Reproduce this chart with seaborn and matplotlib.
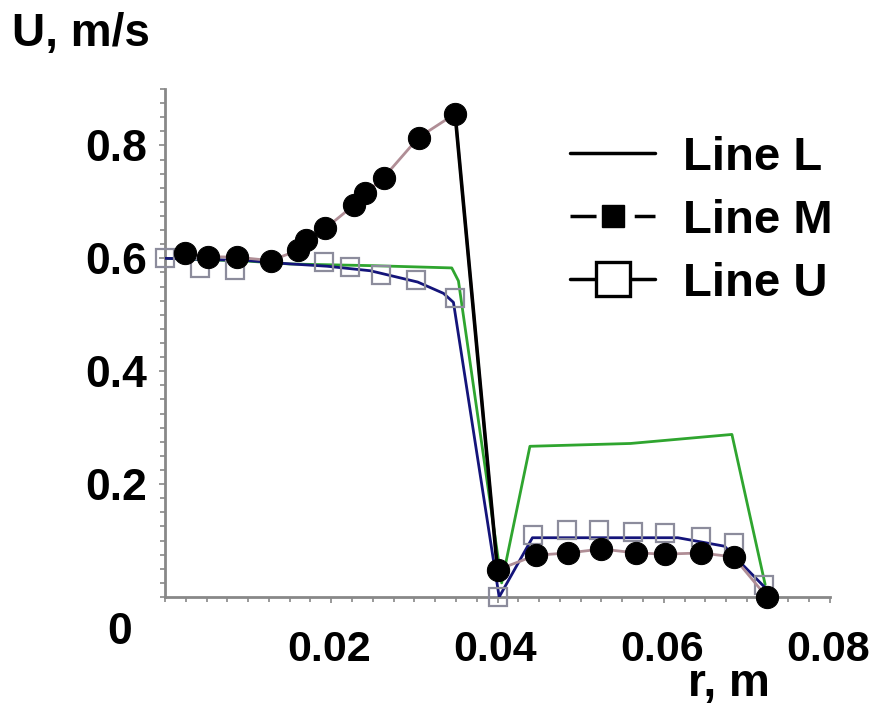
import numpy as np
import pandas as pd
import matplotlib
matplotlib.use("Agg")
import matplotlib.pyplot as plt
import matplotlib.transforms as mtransforms
from matplotlib.lines import Line2D
from matplotlib.ticker import MultipleLocator
import seaborn as sns

# ---------------- data ----------------
# green line (no markers)
green_r = [0.0, 0.010, 0.015, 0.025, 0.0345, 0.0353, 0.0405, 0.0439, 0.0560, 0.0682, 0.0722]
green_u = [0.600, 0.595, 0.590, 0.587, 0.583, 0.560, 0.025, 0.267, 0.272, 0.288, 0.022]

# navy line
navy_r = [0.0, 0.005, 0.010, 0.0142, 0.0195, 0.0247, 0.0304, 0.0335, 0.0347, 0.0402,
          0.0442, 0.0617, 0.0673, 0.0721]
navy_u = [0.600, 0.598, 0.596, 0.591, 0.586, 0.578, 0.558, 0.538, 0.522, 0.0,
          0.105, 0.105, 0.090, 0.018]

# hollow squares
sq_r = [0.0, 0.0042, 0.0084, 0.0191, 0.0223, 0.0260, 0.0302, 0.0349, 0.0400,
        0.0443, 0.0484, 0.0522, 0.0563, 0.0602, 0.0645, 0.0684, 0.0721]
sq_u = [0.600, 0.583, 0.580, 0.593, 0.585, 0.571, 0.561, 0.529, 0.000,
        0.110, 0.119, 0.119, 0.115, 0.113, 0.106, 0.096, 0.022]

# filled circles (rosy connecting line)
circ_r = [0.0024, 0.0052, 0.0087, 0.0127, 0.0160, 0.0170, 0.0193, 0.0227, 0.0241,
          0.0263, 0.0305, 0.0349, 0.0400, 0.0446, 0.0485, 0.0525, 0.0567, 0.0602,
          0.0645, 0.0684, 0.0724]
circ_u = [0.609, 0.603, 0.602, 0.596, 0.614, 0.632, 0.653, 0.694, 0.715,
          0.743, 0.814, 0.856, 0.048, 0.074, 0.078, 0.085, 0.078, 0.076,
          0.078, 0.071, 0.0]

# black drop segment (peak -> trough)
drop_r = [0.0349, 0.0400]
drop_u = [0.856, 0.048]

xticks = [0.02, 0.04, 0.06, 0.08]
xtick_labels = ["0.02", "0.04", "0.06", "0.08"]
yticks = [0.2, 0.4, 0.6, 0.8]
ytick_labels = ["0.2", "0.4", "0.6", "0.8"]
legend_labels = ["Line L", "Line M", "Line U"]

# ---------------- style ----------------
sns.set_style("white")
plt.rcParams["font.family"] = ["Liberation Sans", "DejaVu Sans"]
plt.rcParams["font.weight"] = "bold"
plt.rcParams["text.color"] = "black"
plt.rcParams["xtick.color"] = "#888888"
plt.rcParams["ytick.color"] = "#888888"
plt.rcParams["xtick.labelcolor"] = "black"
plt.rcParams["ytick.labelcolor"] = "black"

W, H = 871, 706
fig = plt.figure(figsize=(W / 100, H / 100), dpi=100)
ax = fig.add_axes([165 / W, 1 - 597 / H, (830 - 165) / W, (597 - 89) / H])

GREEN = "#2fa52f"
NAVY = "#14147a"
ROSY = "#b08e96"
SQEDGE = "#8c8c9c"

sns.lineplot(x=green_r, y=green_u, ax=ax, color=GREEN, linewidth=2.0,
             sort=False, estimator=None, legend=False, zorder=2)
sns.lineplot(x=navy_r, y=navy_u, ax=ax, color=NAVY, linewidth=2.0,
             sort=False, estimator=None, legend=False, zorder=3)
sns.lineplot(x=sq_r, y=sq_u, ax=ax, color=SQEDGE, linewidth=0, marker="s",
             markersize=13, markerfacecolor="none", markeredgecolor=SQEDGE,
             markeredgewidth=1.6, sort=False, estimator=None, legend=False,
             zorder=4, clip_on=False)
sns.lineplot(x=circ_r, y=circ_u, ax=ax, color=ROSY, linewidth=2.0, marker="o",
             markersize=16, markerfacecolor="black", markeredgecolor="black",
             sort=False, estimator=None, legend=False, zorder=5, clip_on=False)
sns.lineplot(x=drop_r, y=drop_u, ax=ax, color="black", linewidth=2.6,
             sort=False, estimator=None, legend=False, zorder=6)

ax.set_xlim(0, 0.08)
ax.set_ylim(0, 0.9)
ax.set_xlabel("")
ax.set_ylabel("")

for s in ["top", "right"]:
    ax.spines[s].set_visible(False)
for s in ["left", "bottom"]:
    ax.spines[s].set_color("#888888")
    ax.spines[s].set_linewidth(2.0)

ax.set_xticks(xticks, labels=xtick_labels)
ax.set_yticks(yticks, labels=ytick_labels)
ax.xaxis.set_minor_locator(MultipleLocator(0.0025))
ax.yaxis.set_minor_locator(MultipleLocator(0.025))
ax.tick_params(axis="both", which="both", direction="out", color="#888888",
               width=1.2, bottom=True, left=True, top=False, right=False)
ax.tick_params(axis="both", which="major", length=4)
ax.tick_params(axis="both", which="minor", length=3.5)
ax.tick_params(axis="x", which="major", labelsize=31, pad=20, labelcolor="black")
ax.tick_params(axis="y", which="major", labelsize=32, pad=9, labelcolor="black")
shift = mtransforms.ScaledTranslation(-2 / 100, 0, fig.dpi_scale_trans)
for lab in ax.get_xticklabels():
    lab.set_fontweight("bold")
    lab.set_transform(lab.get_transform() + shift)
for lab in ax.get_yticklabels():
    lab.set_fontweight("bold")

# origin label
fig.text(120 / W, 1 - 632 / H, "0", fontsize=32, fontweight="bold",
         ha="center", va="center", color="black")
# axis titles
fig.text(12 / W, 1 - 34 / H, "U, m/s", fontsize=33, fontweight="bold",
         ha="left", va="center", color="black")
fig.text(729 / W, 1 - 684 / H, "r, m", fontsize=33, fontweight="bold",
         ha="center", va="center", color="black")

handles = [
    Line2D([], [], color="black", linewidth=2.5),
    Line2D([], [], color="black", linewidth=2.5, linestyle=(0, (7.5, 11)),
           marker="s", markersize=16, markerfacecolor="black", markeredgecolor="black"),
    Line2D([], [], color="black", linewidth=2.5, marker="s", markersize=24,
           markerfacecolor="white", markeredgecolor="black", markeredgewidth=2.4),
]
leg = ax.legend(handles, legend_labels, loc="upper left",
                bbox_to_anchor=(570 / W, 1 - 136 / H), bbox_transform=fig.transFigure,
                frameon=False, fontsize=34, handlelength=1.8, handletextpad=0.6,
                labelspacing=0.4, borderpad=0, borderaxespad=0)
for t in leg.get_texts():
    t.set_fontweight("bold")
    t.set_color("black")

fig.savefig("out.png", dpi=100)
